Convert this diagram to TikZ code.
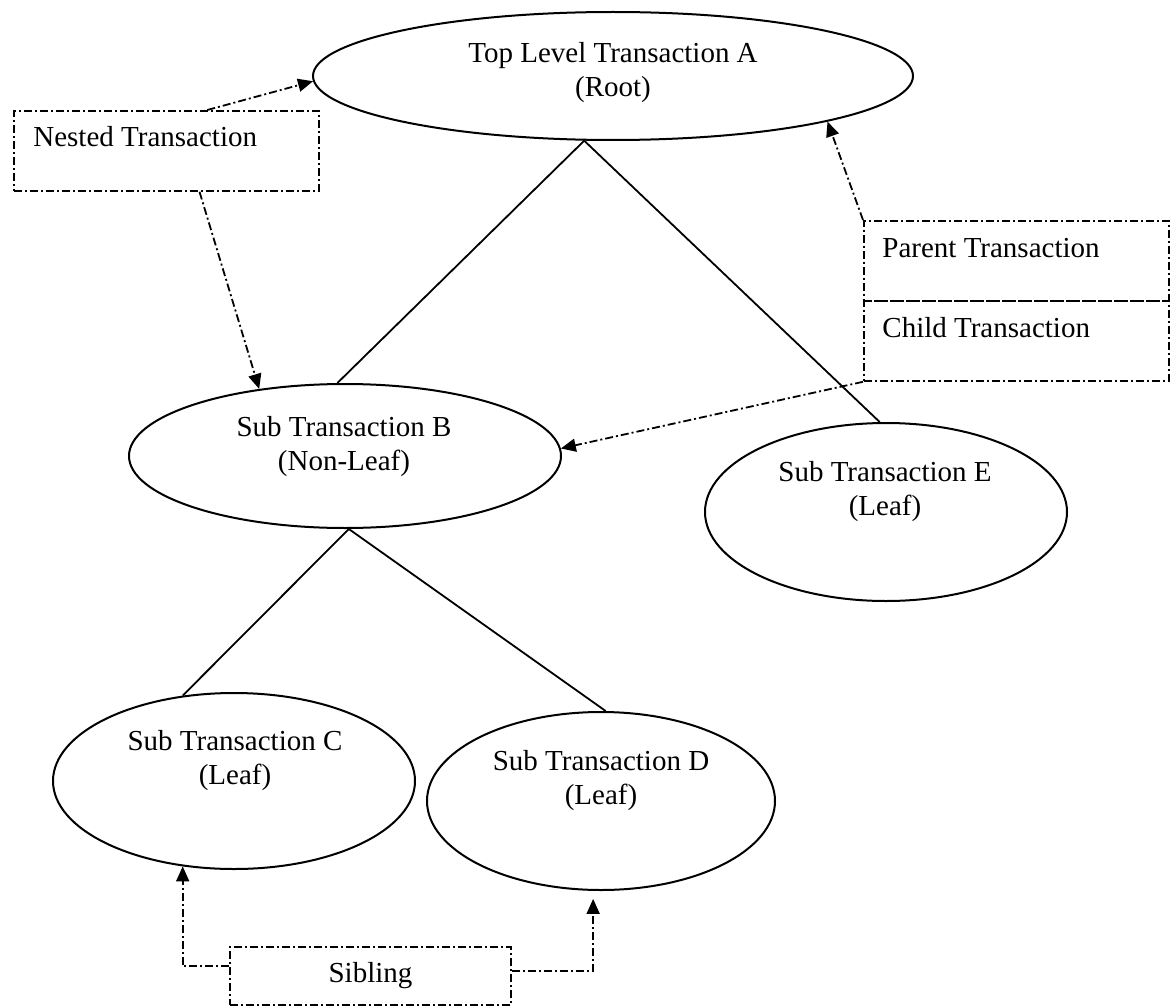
\documentclass[tikz,border=0pt]{standalone}
\usepackage{fontspec}
\setmainfont{Liberation Serif}
\usetikzlibrary{arrows.meta,shapes.geometric}
\begin{document}
\begin{tikzpicture}[x=0.5pt,y=-0.5pt,
  txn/.style={ellipse, draw, line width=1pt, inner sep=0pt},
  lbl/.style={font=\fontsize{14.5}{17}\selectfont, align=center, inner sep=0pt},
  dashdot/.style={dash pattern=on 4pt off 1.5pt on 1pt off 1.5pt},
  note/.style={rectangle, draw, line width=0.9pt, dashdot, inner sep=0pt,
    minimum width=152.5pt, minimum height=40pt, anchor=north west},
  notetext/.style={font=\fontsize{14.5}{17}\selectfont, inner sep=0pt, anchor=base west},
  tree/.style={line width=0.9pt},
  link/.style={line width=0.9pt, dashdot, -{Triangle[length=7.5pt,width=6.5pt]}}
]
% canvas
\fill[white] (0,0) rectangle (1172,1006);
\useasboundingbox (0,0) rectangle (1172,1006);

% transactions
\node[txn, minimum width=300pt, minimum height=64pt] (A) at (613,76) {};
\node[txn, minimum width=216pt, minimum height=72pt] (B) at (345,456) {};
\node[txn, minimum width=181pt, minimum height=88pt] (C) at (234,781) {};
\node[txn, minimum width=174pt, minimum height=89pt] (D) at (601,801) {};
\node[txn, minimum width=181pt, minimum height=89pt] (E) at (886,512) {};

\node[lbl] (At) at (613,73)    {Top Level Transaction A\\(Root)};
\node[lbl] (Bt) at (344,447)   {Sub Transaction B\\(Non-Leaf)};
\node[lbl] (Ct) at (235,760.5) {Sub Transaction C\\(Leaf)};
\node[lbl] (Dt) at (601,780.5) {Sub Transaction D\\(Leaf)};
\node[lbl] (Et) at (885,491.5) {Sub Transaction E\\(Leaf)};

% tree edges
\draw[tree] (A.246.4) -- (B.96.4);
\draw[tree] (A.246.4) -- (E.94);
\draw[tree] (B.-87) -- (C.121);
\draw[tree] (B.-87) -- (D.87);

% annotation boxes
\node[note] (nested) at (13,110) {};
\node[notetext] (nestedt) at (33,147) {Nested Transaction};
\node[note] (parent) at (863,220) {};
\node[notetext] (parentt) at (882,257) {Parent Transaction};
\node[note] (child) at (863,300) {};
\node[notetext] (childt) at (882,337) {Child Transaction};
\node[note, anchor=center, minimum width=140.5pt, minimum height=29pt,
  font=\fontsize{14.5}{17}\selectfont] (sib) at (370.5,976) {Sibling};

% annotation arrows
\draw[link] (nested.45) -- (A.181);
\draw[link] (nested.-51) -- (B.142);
\draw[link] (parent.north west) -- (A.-12.6);
\draw[link] (child.south west) -- (B.2);
\draw[link] (sib.176.7) -| (C.239);
\draw[link, shorten >=4pt] (sib.2.9) -| (D.265);
\end{tikzpicture}
\end{document}
